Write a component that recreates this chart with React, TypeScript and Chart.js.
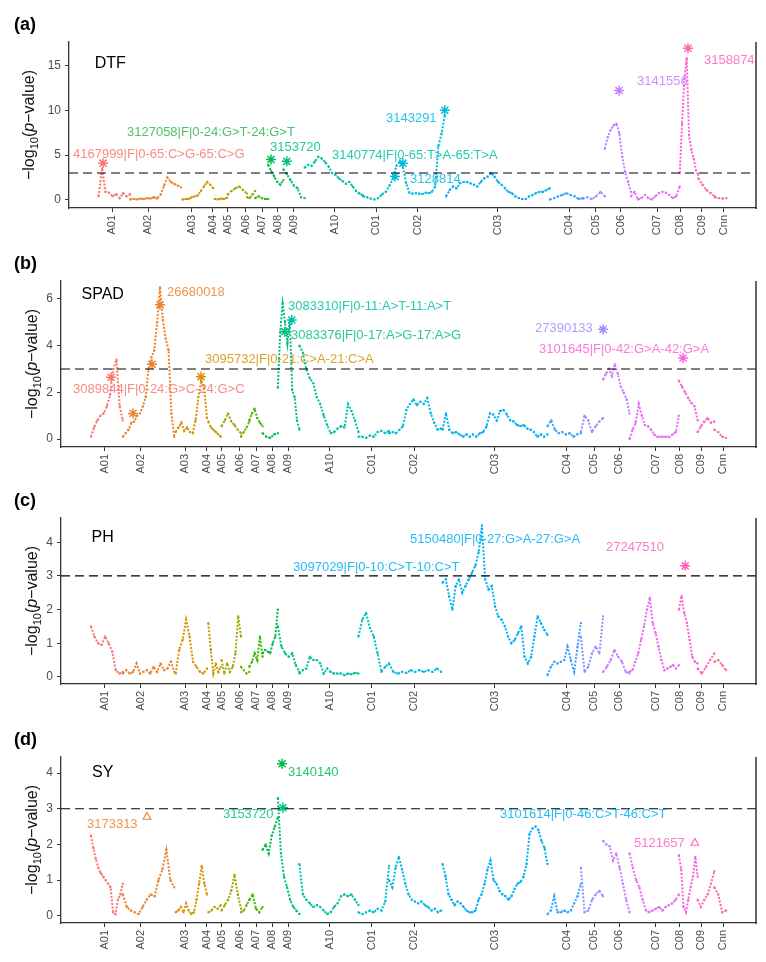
import React, { useEffect, useRef } from "react";
import { Chart, registerables } from "chart.js";

Chart.register(...registerables);

const FONT = "'Liberation Sans', Arial, Helvetica, sans-serif";

// ---------- chromosome layout (cumulative genome units) ----------
const chromosomes = ["A01", "A02", "A03", "A04", "A05", "A06", "A07", "A08", "A09", "A10",
  "C01", "C02", "C03", "C04", "C05", "C06", "C07", "C08", "C09", "Cnn"];
const chromColors = ["#F8766D", "#EA8331", "#D89000", "#C09B00", "#A3A500", "#7CAE00", "#39B600", "#00BB4E", "#00BF7D", "#00C1A3",
  "#00BFC4", "#00BAE0", "#00B0F6", "#35A2FF", "#9590FF", "#C77CFF", "#E76BF3", "#FA62DB", "#FF62BC", "#FF6C91"];
const chromStart = [43, 89, 165, 212, 231, 259, 271, 290, 312, 343, 428, 472, 549, 700, 748, 780, 818, 889, 916, 940];
const chromEnd = [89, 163, 210, 230, 259, 271, 290, 312, 343, 428, 472, 547, 700, 748, 780, 818, 889, 916, 940, 957];
const tickPositions = [62.6, 115, 179, 209.6, 231, 257, 281, 304, 327, 387, 447, 508, 624, 728, 767, 803, 856, 890, 921, 953];
const threshold = 3;

// ---------- -log10(p) values per chromosome ----------
const dtfValues = [
  [0.4, 3.5, 0.9, 0.8, 0.4, 0.65, 0.2, 0.75, 0.4, 0.65],
  [0.05, 0.1, 0.05, 0.15, 0.1, 0.2, 0.15, 0.3, 0.15, 0.6, 1.6, 2.5, 2.0, 1.8, 1.6, 1.4],
  [0.05, 0.1, 0.1, 0.3, 0.4, 0.5, 1.0, 1.5, 2.0, 1.7, 1.3],
  [0.1, 0.05, 0.15, 0.1, 0.25],
  [0.6, 1.0, 1.3, 1.5, 1.1, 0.7],
  [0.3, 0.2, 0.6, 1.0],
  [0.2, 0.4, 0.2, 0.1, 0.1],
  [3.9, 3.2, 2.6, 2.0, 1.7, 2.2],
  [3.4, 2.9, 2.2, 1.6, 1.3, 0.3, 0.2],
  [3.6, 3.9, 3.8, 4.3, 4.8, 4.6, 4.2, 3.7, 3.0, 2.8, 2.4, 2.1, 1.8, 2.0, 1.5, 1.0, 0.7, 0.5],
  [0.4, 0.3, 0.15, 0.05, 0.2, 0.6, 0.9, 1.6, 2.4],
  [2.6, 3.8, 4.2, 3.6, 1.9, 0.8, 0.7, 0.75, 0.7, 0.65, 0.8, 0.75, 0.9, 1.5, 6.0, 7.4, 9.4],
  [0.4, 1.1, 1.5, 1.3, 1.85, 2.0, 2.0, 1.85, 1.7, 1.5, 2.0, 2.4, 2.6, 3.0, 2.6, 2.0, 1.7, 1.3, 0.9, 0.75, 0.4, 0.2, 0.1, 0.1, 0.4, 0.55, 0.75, 0.9, 0.9, 1.1, 1.3],
  [0.05, 0.2, 0.4, 0.55, 0.75, 0.55, 0.4, 0.1, 0.2],
  [0.15, 0.3, 0.1, 0.4, 0.9, 0.4],
  [5.7, 7.0, 7.8, 8.3, 8.5, 7.4, 4.8, 3.1, 2.0, 0.9],
  [0.4, 0.9, 0.05, 0.2, 0.55, 0.2, 0.05, 0.4, 0.75, 0.9, 0.8, 0.55, 0.2, 0.4, 1.5],
  [3.0, 8.5, 13.5, 15.8, 7.2, 5.6, 4.6, 3.3, 2.8],
  [2.4, 1.7, 1.1, 0.75, 0.4],
  [0.3, 0.2, 0.15, 0.2],
];

const spadValues = [
  [0.1, 0.5, 0.8, 1.0, 1.1, 1.4, 1.9, 3.0, 3.4, 1.4, 0.8],
  [0.1, 0.25, 0.4, 0.7, 0.75, 1.0, 1.1, 1.4, 1.8, 3.0, 3.5, 3.8, 5.0, 6.5, 5.1, 4.3, 3.8, 1.1, 0.1],
  [0.3, 0.5, 0.7, 0.35, 0.5, 0.3, 0.25, 0.8, 1.8, 2.5, 2.2, 0.9],
  [0.75, 0.5, 0.4, 0.3, 0.2, 0.1],
  [0.55, 0.8, 1.1, 0.75, 0.6, 0.4, 0.25],
  [0.1, 0.3, 0.5, 0.75],
  [0.8, 1.1, 1.3, 0.9, 0.7, 0.55],
  [0.25, 0.1, 0.05, 0.2, 0.25],
  [2.2, 4.6, 5.8, 5.0, 4.1, 5.1, 2.1, 1.8, 0.8, 0.4],
  [4.0, 3.7, 3.0, 2.6, 2.4, 1.8, 1.5, 1.0, 0.6, 0.25, 0.3, 0.45, 0.55, 0.5, 1.5, 1.2, 0.8, 0.3],
  [0.1, 0.1, 0.05, 0.15, 0.1, 0.3, 0.35, 0.25, 0.35],
  [0.25, 0.3, 0.25, 0.4, 0.55, 1.25, 1.5, 1.7, 1.45, 1.6, 1.5, 1.75, 1.1, 0.7, 0.4, 0.45],
  [0.4, 1.1, 0.4, 0.25, 0.3, 0.2, 0.1, 0.2, 0.1, 0.2, 0.1, 0.25, 0.3, 0.55, 1.1, 1.05, 0.8, 1.2, 1.25, 1.05, 0.8, 0.75, 0.6, 0.55, 0.6, 0.45, 0.4, 0.3, 0.1, 0.2, 0.1, 0.2],
  [0.55, 0.8, 0.4, 0.25, 0.3, 0.2, 0.25, 0.1, 0.2, 0.25],
  [0.3, 1.0, 0.8, 0.3, 0.55, 0.75, 0.9],
  [2.55, 2.8, 3.0, 2.7, 3.2, 2.8, 2.25, 2.0, 1.7, 1.1],
  [0.0, 0.4, 0.7, 1.5, 1.0, 0.6, 0.55, 0.4, 0.2, 0.1, 0.1, 0.1, 0.1, 0.1, 0.2, 0.3, 1.0],
  [2.5, 2.25, 2.0, 1.75, 1.55, 1.4, 0.8],
  [0.3, 0.55, 0.75, 0.9, 0.7, 0.75],
  [0.4, 0.3, 0.1, 0.05],
];

const phValues = [
  [1.5, 1.2, 1.0, 0.95, 1.2, 1.0, 0.75, 0.2, 0.1, 0.15],
  [0.1, 0.2, 0.1, 0.15, 0.4, 0.1, 0.15, 0.2, 0.1, 0.3, 0.15, 0.4, 0.2, 0.25, 0.45, 0.15],
  [0.1, 0.8, 1.1, 1.7, 1.2, 0.45, 0.3, 0.15, 0.1, 0.25],
  [1.6, 0.8, 0.1, 0.4, 0.15, 0.3],
  [0.5, 0.1, 0.4, 0.15, 0.3, 0.7, 1.8, 1.2],
  [0.3, 0.2, 0.1, 0.15],
  [0.3, 0.45, 0.7, 0.5, 1.2, 0.6],
  [0.7, 0.8, 0.75, 0.7, 1.0, 1.2, 2.0],
  [1.5, 0.9, 0.7, 0.6, 0.7, 0.35, 0.15],
  [0.1, 0.2, 0.25, 0.6, 0.5, 0.5, 0.4, 0.1, 0.25, 0.15, 0.1, 0.1, 0.1, 0.05, 0.1, 0.08, 0.12, 0.1],
  [1.2, 1.7, 1.9, 1.45, 1.2, 0.7, 0.15, 0.3, 0.4],
  [0.4, 0.15, 0.1, 0.15, 0.12, 0.2, 0.15, 0.2, 0.15, 0.2, 0.15, 0.25, 0.15],
  [2.8, 2.9, 2.4, 2.0, 2.7, 2.9, 2.5, 2.7, 2.9, 3.1, 3.3, 3.7, 4.5, 2.9, 2.6, 2.7, 2.1, 1.8, 1.7, 1.5, 1.2, 1.0, 1.1, 1.3, 1.5, 0.6, 0.4, 0.6, 1.2, 1.8, 1.6, 1.4, 1.25],
  [0.05, 0.3, 0.45, 0.4, 0.45, 0.5, 0.9, 0.5, 0.15, 0.9, 1.6],
  [1.2, 0.15, 0.3, 0.7, 0.9, 0.7, 1.8],
  [0.15, 0.3, 0.5, 0.8, 0.6, 0.45, 0.15, 0.1],
  [0.15, 0.2, 0.45, 0.7, 1.1, 1.5, 2.0, 2.35, 1.6, 1.3, 0.9, 0.5, 0.2, 0.25, 0.3, 0.35, 0.25, 0.35],
  [2.0, 2.4, 1.9, 1.6, 1.1, 0.6, 0.45, 0.4],
  [0.25, 0.1, 0.3, 0.5, 0.7],
  [0.45, 0.5, 0.35, 0.2],
];

const syValues = [
  [2.25, 1.9, 1.6, 1.35, 1.2, 1.1, 1.0, 0.9, 0.8, 0.1, 0.05, 0.45, 0.6, 0.9],
  [0.6, 0.25, 0.15, 0.1, 0.05, 0.25, 0.45, 0.6, 0.55, 1.0, 1.3, 1.85, 1.0, 0.8],
  [0.1, 0.15, 0.25, 0.1, 0.35, 0.15, 0.05, 0.1, 0.45, 0.9, 1.4, 0.9, 0.6],
  [0.1, 0.15, 0.25, 0.2, 0.3],
  [0.15, 0.3, 0.45, 0.7, 1.15, 0.6, 0.2],
  [0.1, 0.15, 0.3, 0.45],
  [0.45, 0.6, 0.2, 0.1, 0.25],
  [1.85, 2.0, 1.75, 2.25, 2.5, 2.75],
  [3.3, 1.75, 1.1, 0.8, 0.45, 0.25, 0.15, 0.05],
  [1.45, 0.6, 0.45, 0.35, 0.25, 0.3, 0.25, 0.15, 0.05, 0.1, 0.25, 0.35, 0.55, 0.6, 0.55, 0.6, 0.45, 0.3],
  [0.1, 0.05, 0.1, 0.15, 0.1, 0.2, 0.15, 0.4, 1.4],
  [1.0, 0.8, 1.35, 1.65, 1.3, 0.9, 0.6, 0.45, 0.4, 0.35, 0.4, 0.3, 0.25, 0.15, 0.2, 0.1, 0.15],
  [1.45, 1.1, 0.6, 0.45, 0.3, 0.4, 0.35, 0.25, 0.15, 0.1, 0.1, 0.15, 0.45, 0.6, 0.9, 1.3, 1.55, 1.0, 0.9, 0.7, 0.6, 0.55, 0.45, 0.55, 0.75, 0.9, 0.95, 1.1, 1.45, 2.3, 2.45, 2.5, 2.4, 2.1, 1.9, 1.45],
  [0.05, 0.15, 0.55, 0.1, 0.1, 0.15, 0.1, 0.15, 0.35, 0.55, 0.9],
  [1.35, 0.1, 0.15, 0.45, 0.6, 0.7, 0.55],
  [2.1, 2.0, 1.95, 1.55, 1.75, 1.35, 0.9, 0.45, 0.1],
  [1.75, 1.35, 1.0, 0.8, 0.45, 0.15, 0.1, 0.15, 0.2, 0.25, 0.15, 0.25, 0.3, 0.35, 0.45, 0.6],
  [1.7, 1.3, 0.25, 0.1, 0.45, 0.8, 1.1, 1.65, 1.1],
  [0.45, 0.25, 0.45, 0.6, 0.9, 1.25],
  [0.8, 0.6, 0.1, 0.15],
];

// ---------- highlighted SNPs (asterisks / triangles) ----------
type Hit = { chrom: number; pos: number; value: number };
const dtfStars: Hit[] = [
  { chrom: 0, pos: 49.5, value: 4.1 },
  { chrom: 7, pos: 294, value: 4.5 },
  { chrom: 8, pos: 317, value: 4.3 },
  { chrom: 11, pos: 474.5, value: 2.6 },
  { chrom: 11, pos: 486, value: 4.1 },
  { chrom: 11, pos: 547, value: 10 },
  { chrom: 15, pos: 800.6, value: 12.2 },
  { chrom: 18, pos: 901, value: 16.9 },
];
const spadStars: Hit[] = [
  { chrom: 0, pos: 72, value: 2.65 },
  { chrom: 1, pos: 103.6, value: 1.1 },
  { chrom: 1, pos: 131, value: 3.2 },
  { chrom: 1, pos: 142.4, value: 5.75 },
  { chrom: 2, pos: 201.4, value: 2.67 },
  { chrom: 8, pos: 322, value: 4.6 },
  { chrom: 9, pos: 332, value: 5.1 },
  { chrom: 14, pos: 780, value: 4.7 },
  { chrom: 17, pos: 895, value: 3.47 },
];
const phStars: Hit[] = [{ chrom: 18, pos: 898, value: 3.3 }];
const syStars: Hit[] = [
  { chrom: 7, pos: 318, value: 4.26 },
  { chrom: 8, pos: 319.4, value: 3.03 },
];
const syTriangles: Hit[] = [
  { chrom: 1, pos: 123.7, value: 2.77 },
  { chrom: 18, pos: 912, value: 2.04 },
];

// ---------- SNP labels ----------
type Lab = { text: string; x: number; y: number; color: string };
const dtfLabels: Lab[] = [
  { text: "4167999|F|0-65:C>G-65:C>G", x: 5.8, y: 5.1, color: "#F8766D" },
  { text: "3127058|F|0-24:G>T-24:G>T", x: 84.4, y: 7.56, color: "#2DB84C" },
  { text: "3153720", x: 292.6, y: 5.9, color: "#00BF7D" },
  { text: "3140774|F|0-65:T>A-65:T>A", x: 382.8, y: 5.0, color: "#00C1A3" },
  { text: "3128814", x: 496.4, y: 2.33, color: "#00BAE0" },
  { text: "3143291", x: 461.4, y: 9.1, color: "#00BAE0" },
  { text: "3141556", x: 826.8, y: 13.2, color: "#C77CFF" },
  { text: "3158874", x: 924.3, y: 15.6, color: "#FF62BC" },
];
const spadLabels: Lab[] = [
  { text: "3089844|F|0-24:G>C-24:G>C", x: 17.3, y: 2.14, color: "#F8766D" },
  { text: "26680018", x: 152.5, y: 6.26, color: "#EA8331" },
  { text: "3095732|F|0-21:C>A-21:C>A", x: 207.2, y: 3.43, color: "#D89000" },
  { text: "3083310|F|0-11:A>T-11:A>T", x: 326.6, y: 5.66, color: "#00C1A3" },
  { text: "3083376|F|0-17:A>G-17:A>G", x: 331, y: 4.46, color: "#00BF7D" },
  { text: "27390133", x: 682, y: 4.76, color: "#9590FF" },
  { text: "3101645|F|0-42:G>A-42:G>A", x: 687.8, y: 3.86, color: "#FA62DB" },
];
const phLabels: Lab[] = [
  { text: "3097029|F|0-10:C>T-10:C>T", x: 333.8, y: 3.26, color: "#00B0F6" },
  { text: "5150480|F|0-27:G>A-27:G>A", x: 502.2, y: 4.07, color: "#00B0F6" },
  { text: "27247510", x: 784.2, y: 3.86, color: "#FF62BC" },
];
const syLabels: Lab[] = [
  { text: "3140140", x: 326.6, y: 4.03, color: "#00BB4E" },
  { text: "3153720", x: 233, y: 2.83, color: "#00BF7D" },
  { text: "3173313", x: 37.4, y: 2.57, color: "#EA8331" },
  { text: "3101614|F|0-46:C>T-46:C>T", x: 631.7, y: 2.85, color: "#00B0F6" },
  { text: "5121657", x: 824.5, y: 2.04, color: "#FF62BC" },
];

const panels = [
  { letter: "(a)", trait: "DTF", traitY: 15.2, values: dtfValues, stars: dtfStars, triangles: [] as Hit[], labels: dtfLabels,
    yMin: -0.9, yMax: 17.6, yTicks: [0, 5, 10, 15], axisLeft: 69, titleX: 29, top: 0 },
  { letter: "(b)", trait: "SPAD", traitY: 6.17, values: spadValues, stars: spadStars, triangles: [] as Hit[], labels: spadLabels,
    yMin: -0.34, yMax: 6.77, yTicks: [0, 2, 4, 6], axisLeft: 61, titleX: 32, top: 239 },
  { letter: "(c)", trait: "PH", traitY: 4.15, values: phValues, stars: phStars, triangles: [] as Hit[], labels: phLabels,
    yMin: -0.21, yMax: 4.72, yTicks: [0, 1, 2, 3, 4], axisLeft: 61, titleX: 32, top: 476 },
  { letter: "(d)", trait: "SY", traitY: 4.0, values: syValues, stars: syStars, triangles: syTriangles, labels: syLabels,
    yMin: -0.2, yMax: 4.45, yTicks: [0, 1, 2, 3, 4], axisLeft: 61, titleX: 32, top: 715 },
];

const overlayPlugin = {
  id: "overlay",
  afterDatasetsDraw(chart: any, _args: any, opts: any) {
    const p = opts.panel;
    if (!p) return;
    const { ctx, chartArea: ca, scales } = chart;
    const xs = scales.x, ys = scales.y;
    ctx.save();
    // threshold
    const yT = ys.getPixelForValue(threshold);
    ctx.strokeStyle = "#000";
    ctx.lineWidth = 1.1;
    ctx.setLineDash([9, 5]);
    ctx.beginPath();
    ctx.moveTo(ca.left, yT);
    ctx.lineTo(ca.right, yT);
    ctx.stroke();
    ctx.setLineDash([]);
    // right border
    ctx.strokeStyle = "#333";
    ctx.lineWidth = 1.5;
    ctx.beginPath();
    ctx.moveTo(ca.right, ca.top);
    ctx.lineTo(ca.right, ca.bottom + 1);
    ctx.stroke();
    // SNP labels
    ctx.font = `13px ${FONT}`;
    ctx.textBaseline = "middle";
    ctx.textAlign = "left";
    ctx.globalAlpha = 0.85;
    p.labels.forEach((l: Lab) => {
      ctx.fillStyle = l.color;
      ctx.fillText(l.text, xs.getPixelForValue(l.x), ys.getPixelForValue(l.y));
    });
    ctx.globalAlpha = 1;
    // trait name
    ctx.font = `16px ${FONT}`;
    ctx.fillStyle = "#000";
    ctx.textAlign = "center";
    ctx.fillText(p.trait, xs.getPixelForValue(60), ys.getPixelForValue(p.traitY));
    // panel letter
    ctx.font = `bold 18px ${FONT}`;
    ctx.textAlign = "left";
    ctx.fillText(p.letter, 14, 25);
    // y title: −log10(p−value)
    const parts = [
      { t: "\u2212log", f: `16px ${FONT}`, dy: 0 },
      { t: "10", f: `11px ${FONT}`, dy: 4 },
      { t: "(", f: `16px ${FONT}`, dy: 0 },
      { t: "p", f: `italic 16px ${FONT}`, dy: 0 },
      { t: "\u2212value)", f: `16px ${FONT}`, dy: 0 },
    ];
    let total = 0;
    parts.forEach((pt) => { ctx.font = pt.f; total += ctx.measureText(pt.t).width; });
    ctx.translate(p.titleX, (ca.top + ca.bottom) / 2);
    ctx.rotate(-Math.PI / 2);
    ctx.textBaseline = "alphabetic";
    ctx.fillStyle = "#111";
    let x = -total / 2;
    parts.forEach((pt) => {
      ctx.font = pt.f;
      ctx.fillText(pt.t, x, 5 + pt.dy);
      x += ctx.measureText(pt.t).width;
    });
    ctx.restore();
  },
};

function Panel({ p }: { p: (typeof panels)[number] }) {
  const ref = useRef<HTMLCanvasElement | null>(null);
  useEffect(() => {
    if (!ref.current) return;
    const datasets: any[] = p.values.map((vals, ci) => {
      const s = chromStart[ci], e = chromEnd[ci], n = vals.length;
      return {
        data: vals.map((v, i) => ({ x: n > 1 ? s + ((e - s) * i) / (n - 1) : s, y: v })),
        showLine: true,
        borderColor: chromColors[ci],
        backgroundColor: chromColors[ci],
        borderWidth: 2,
        borderDash: [2, 1.6],
        pointRadius: 1.4,
        pointStyle: "rect",
        pointBorderWidth: 0,
        tension: 0,
        fill: false,
        order: 2,
      };
    });
    datasets.push({
      data: p.stars.map((h) => ({ x: h.pos, y: h.value })),
      showLine: false,
      pointStyle: "star",
      pointRadius: 5,
      pointBorderWidth: 1.5,
      pointBorderColor: p.stars.map((h) => chromColors[h.chrom]),
      pointBackgroundColor: "rgba(0,0,0,0)",
      order: 0,
    });
    if (p.triangles.length) {
      datasets.push({
        data: p.triangles.map((h) => ({ x: h.pos, y: h.value })),
        showLine: false,
        pointStyle: "triangle",
        pointRadius: 4.5,
        pointBorderWidth: 1.1,
        pointBorderColor: p.triangles.map((h) => chromColors[h.chrom]),
        pointBackgroundColor: "rgba(0,0,0,0)",
        order: 0,
      });
    }
    const axisGrid = { display: true, drawOnChartArea: false, drawTicks: true, tickLength: 4, color: "#333", lineWidth: 1 };
    const axisBorder = { display: true, color: "#333", width: 1.3 };
    const chart = new Chart(ref.current, {
      type: "scatter",
      data: { datasets },
      plugins: [overlayPlugin],
      options: {
        animation: false,
        responsive: false,
        events: [],
        layout: { padding: { top: 42, right: 10, left: 0, bottom: 0 } },
        plugins: { legend: { display: false }, tooltip: { enabled: false }, overlay: { panel: p } } as any,
        scales: {
          x: {
            type: "linear",
            min: 0,
            max: 1000,
            afterBuildTicks: (s: any) => { s.ticks = tickPositions.map((v) => ({ value: v })); },
            afterFit: (s: any) => { s.height = 30; },
            ticks: {
              autoSkip: false, minRotation: 90, maxRotation: 90, padding: 3,
              font: { family: FONT, size: 11 }, color: "#4D4D4D",
              callback: (_v: any, i: number) => chromosomes[i],
            },
            grid: axisGrid,
            border: axisBorder,
          },
          y: {
            type: "linear",
            min: p.yMin,
            max: p.yMax,
            afterBuildTicks: (s: any) => { s.ticks = p.yTicks.map((v) => ({ value: v })); },
            afterFit: (s: any) => { s.width = p.axisLeft; },
            ticks: { font: { family: FONT, size: 12 }, color: "#4D4D4D", padding: 4, callback: (v: any) => String(v) },
            grid: axisGrid,
            border: axisBorder,
          },
        },
      } as any,
    });
    return () => chart.destroy();
  }, [p]);
  return (
    <canvas
      ref={ref}
      width={766}
      height={238}
      style={{ position: "absolute", left: 0, top: p.top, width: 766, height: 238 }}
    />
  );
}

export default function App() {
  return (
    <div style={{ position: "absolute", left: 0, top: 0, width: 766, height: 962, background: "#fff" }}>
      {panels.map((p) => (
        <Panel key={p.letter} p={p} />
      ))}
    </div>
  );
}
